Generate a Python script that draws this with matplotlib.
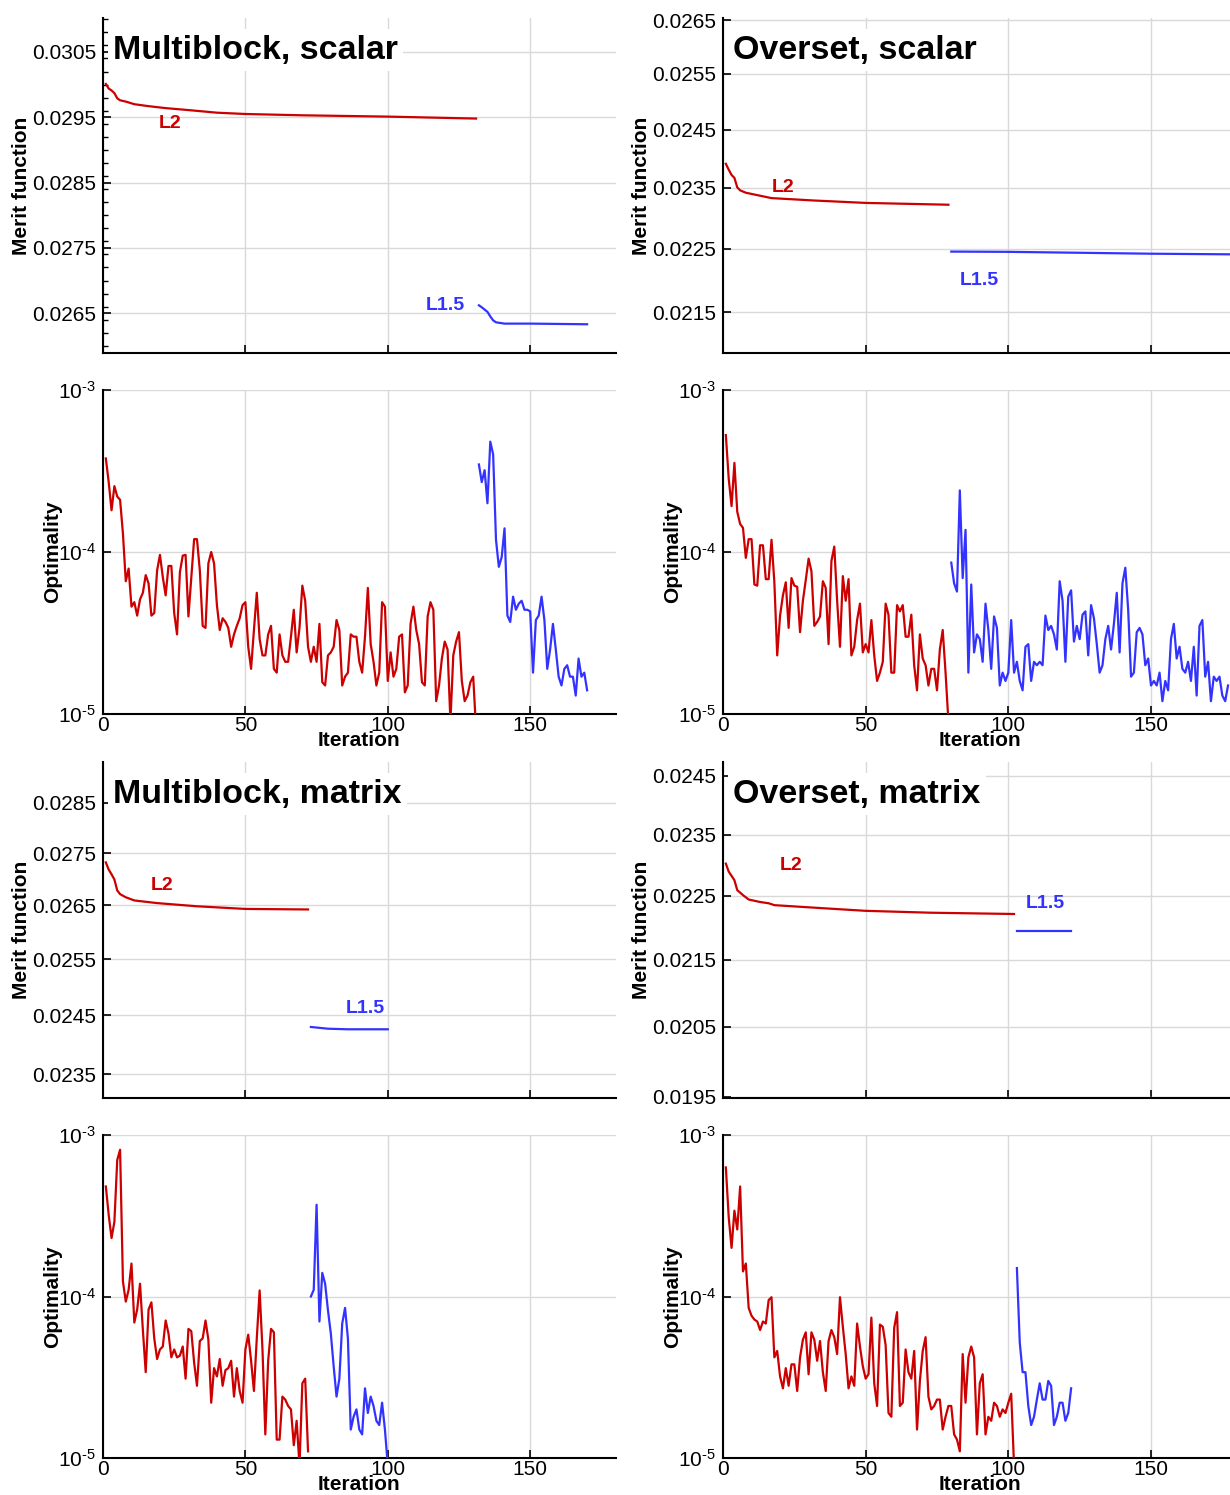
import math
import matplotlib
matplotlib.use("Agg")
import matplotlib.pyplot as plt
from matplotlib.ticker import FixedLocator, FuncFormatter, NullLocator, MultipleLocator

plt.rcParams['font.family'] = ['Liberation Sans', 'DejaVu Sans']
plt.rcParams['mathtext.fontset'] = 'custom'
plt.rcParams['mathtext.rm'] = 'Liberation Sans'
plt.rcParams['mathtext.it'] = 'Liberation Sans'

RED = '#cc0000'
BLUE = '#3333ff'
GRID = '#d9d9d9'

# ---------------- data ----------------
titles = ["Multiblock, scalar", "Overset, scalar", "Multiblock, matrix", "Overset, matrix"]
iteration_ticks = [0, 50, 100, 150]
opt_ticks = [1e-5, 1e-4, 1e-3]

# Multiblock, scalar
mbs_merit_red_it = [1, 2, 3, 4, 5, 6, 8, 11, 16, 22, 30, 40, 50, 70, 100, 131]
mbs_merit_red = [0.03001, 0.02994, 0.02991, 0.02987, 0.02979, 0.02976, 0.02974, 0.02970,
                 0.02967, 0.02964, 0.02961, 0.02957, 0.02955, 0.02953, 0.02951, 0.02948]
mbs_merit_blue_it = [132, 133, 135, 136, 137, 138, 141, 150, 170]
mbs_merit_blue = [0.02662, 0.02659, 0.02652, 0.02645, 0.02639, 0.02636, 0.02634, 0.02634, 0.02633]
mbs_opt_red_start = 1
mbs_opt_red = [3.78e-4, 2.7e-4, 1.81e-4, 2.55e-4, 2.2e-4, 2.1e-4, 1.3e-4, 6.6e-5, 7.9e-5, 4.6e-5,
               4.9e-5, 4.05e-5, 5.1e-5, 5.6e-5, 7.2e-5, 6.4e-5, 4.05e-5, 4.2e-5, 7.7e-5, 9.6e-5,
               7.0e-5, 5.4e-5, 8.2e-5, 8.2e-5, 4.2e-5, 3.1e-5, 7.5e-5, 9.5e-5, 9.6e-5, 4.0e-5,
               7.0e-5, 1.2e-4, 1.2e-4, 7.7e-5, 3.5e-5, 3.4e-5, 8.5e-5, 1.0e-4, 8.5e-5, 4.7e-5,
               3.3e-5, 3.9e-5, 3.7e-5, 3.4e-5, 2.6e-5, 3.1e-5, 3.5e-5, 3.9e-5, 4.7e-5, 4.9e-5,
               2.6e-5, 1.9e-5, 3.3e-5, 5.6e-5, 2.9e-5, 2.3e-5, 2.3e-5, 3.1e-5, 3.5e-5, 1.9e-5,
               1.8e-5, 3.1e-5, 2.3e-5, 2.1e-5, 2.1e-5, 3.0e-5, 4.4e-5, 2.4e-5, 3.4e-5, 6.2e-5,
               5.0e-5, 2.6e-5, 2.1e-5, 2.6e-5, 2.1e-5, 3.6e-5, 1.57e-5, 1.5e-5, 2.3e-5, 2.4e-5,
               2.6e-5, 3.8e-5, 3.3e-5, 1.5e-5, 1.7e-5, 1.8e-5, 3.1e-5, 3.0e-5, 3.0e-5, 2.1e-5,
               1.8e-5, 3.0e-5, 6.0e-5, 2.7e-5, 2.1e-5, 1.5e-5, 1.8e-5, 4.9e-5, 4.6e-5, 1.6e-5,
               2.4e-5, 1.7e-5, 1.9e-5, 3.0e-5, 3.1e-5, 1.36e-5, 1.5e-5, 3.6e-5, 4.6e-5, 3.3e-5,
               2.7e-5, 1.57e-5, 1.5e-5, 4.0e-5, 4.9e-5, 4.4e-5, 1.2e-5, 1.5e-5, 2.2e-5, 2.8e-5,
               2.5e-5, 9e-6, 2.3e-5, 2.8e-5, 3.2e-5, 1.6e-5, 1.2e-5, 1.3e-5, 1.57e-5, 1.7e-5,
               8e-6]
mbs_opt_blue_start = 132
mbs_opt_blue = [3.47e-4, 2.7e-4, 3.2e-4, 2.0e-4, 4.8e-4, 4.0e-4, 1.19e-4, 8.1e-5, 9.3e-5, 1.4e-4,
                4.05e-5, 3.7e-5, 5.3e-5, 4.4e-5, 4.8e-5, 5.0e-5, 4.4e-5, 4.4e-5, 4.3e-5, 1.8e-5,
                3.8e-5, 4.05e-5, 5.3e-5, 3.8e-5, 1.9e-5, 2.5e-5, 3.6e-5, 2.5e-5, 1.7e-5, 1.5e-5,
                1.9e-5, 2.0e-5, 1.7e-5, 1.7e-5, 1.3e-5, 2.2e-5, 1.7e-5, 1.8e-5, 1.4e-5]

# Overset, scalar
ovs_merit_red_it = [1, 2, 3, 4, 5, 6, 8, 10, 17, 32, 50, 79]
ovs_merit_red = [0.02391, 0.02381, 0.02372, 0.02367, 0.02351, 0.02346, 0.02342, 0.02340,
                 0.02333, 0.02329, 0.02325, 0.02322]
ovs_merit_blue_it = [80, 100, 150, 178]
ovs_merit_blue = [0.022454, 0.02245, 0.02242, 0.02241]
ovs_opt_red_start = 1
ovs_opt_red = [5.27e-4, 2.84e-4, 1.92e-4, 3.55e-4, 1.77e-4, 1.49e-4, 1.41e-4, 9.2e-5, 1.2e-4, 1.2e-4,
               6.3e-5, 6.2e-5, 1.1e-4, 1.1e-4, 6.8e-5, 6.8e-5, 1.19e-4, 6.5e-5, 2.3e-5, 4.05e-5,
               5.4e-5, 6.5e-5, 3.4e-5, 6.9e-5, 6.2e-5, 6.1e-5, 3.2e-5, 5.0e-5, 6.7e-5, 9.1e-5,
               7.6e-5, 3.5e-5, 3.7e-5, 4.0e-5, 6.6e-5, 6.0e-5, 2.7e-5, 8.8e-5, 1.08e-4, 5.0e-5,
               2.6e-5, 7.1e-5, 5.0e-5, 6.8e-5, 2.3e-5, 2.6e-5, 3.8e-5, 4.8e-5, 2.4e-5, 2.7e-5,
               2.4e-5, 3.8e-5, 2.3e-5, 1.6e-5, 1.8e-5, 2.1e-5, 4.8e-5, 4.1e-5, 1.8e-5, 1.8e-5,
               4.7e-5, 4.3e-5, 4.7e-5, 3.0e-5, 3.0e-5, 4.1e-5, 2.0e-5, 1.4e-5, 3.1e-5, 2.2e-5,
               2.0e-5, 1.5e-5, 1.9e-5, 1.9e-5, 1.4e-5, 2.5e-5, 3.3e-5, 1.8e-5, 9e-6]
ovs_opt_blue_start = 80
ovs_opt_blue = [8.6e-5, 6.4e-5, 5.7e-5, 2.4e-4, 6.9e-5, 1.37e-4, 1.8e-5, 6.3e-5, 2.4e-5, 3.1e-5,
                2.9e-5, 2.1e-5, 4.8e-5, 3.3e-5, 1.9e-5, 4.0e-5, 3.4e-5, 1.5e-5, 1.8e-5, 1.6e-5,
                1.8e-5, 3.8e-5, 1.8e-5, 2.1e-5, 1.6e-5, 1.4e-5, 2.6e-5, 2.7e-5, 1.6e-5, 2.1e-5,
                2.0e-5, 2.1e-5, 2.0e-5, 4.05e-5, 3.3e-5, 3.5e-5, 3.1e-5, 2.5e-5, 6.6e-5, 5.0e-5,
                2.1e-5, 5.3e-5, 5.8e-5, 2.8e-5, 3.5e-5, 2.9e-5, 4.1e-5, 4.3e-5, 2.3e-5, 4.7e-5,
                3.9e-5, 2.7e-5, 1.8e-5, 2.0e-5, 2.9e-5, 3.5e-5, 2.5e-5, 3.6e-5, 5.6e-5, 2.4e-5,
                6.4e-5, 8.0e-5, 4.4e-5, 1.7e-5, 1.8e-5, 3.2e-5, 3.4e-5, 3.1e-5, 2.0e-5, 2.2e-5,
                1.5e-5, 1.6e-5, 1.5e-5, 1.8e-5, 1.2e-5, 1.6e-5, 1.4e-5, 2.9e-5, 3.6e-5, 2.2e-5,
                2.6e-5, 1.9e-5, 1.8e-5, 2.1e-5, 1.6e-5, 2.6e-5, 1.3e-5, 3.5e-5, 3.8e-5, 1.7e-5,
                2.1e-5, 1.2e-5, 1.7e-5, 1.6e-5, 1.7e-5, 1.3e-5, 1.2e-5, 1.5e-5]

# Multiblock, matrix
mbm_merit_red_it = [1, 2, 3, 4, 5, 6, 8, 11, 19, 33, 50, 72]
mbm_merit_red = [0.02732, 0.02718, 0.02709, 0.02699, 0.02678, 0.02671, 0.02665, 0.02659,
                 0.02654, 0.02648, 0.02643, 0.02642]
mbm_merit_blue_it = [73, 79, 86, 100]
mbm_merit_blue = [0.02430, 0.02427, 0.02426, 0.02426]
mbm_opt_red_start = 1
mbm_opt_red = [4.8e-4, 3.2e-4, 2.3e-4, 2.9e-4, 7.0e-4, 8.1e-4, 1.24e-4, 9.3e-5, 1.1e-4, 1.6e-4,
               6.9e-5, 8.3e-5, 1.2e-4, 6.2e-5, 3.4e-5, 8.3e-5, 9.2e-5, 5.5e-5, 4.1e-5, 4.7e-5,
               4.9e-5, 7.1e-5, 5.9e-5, 4.2e-5, 4.7e-5, 4.2e-5, 4.3e-5, 4.9e-5, 3.1e-5, 6.3e-5,
               6.1e-5, 3.9e-5, 2.8e-5, 5.3e-5, 5.5e-5, 7.1e-5, 5.4e-5, 2.2e-5, 3.6e-5, 3.2e-5,
               4.1e-5, 2.8e-5, 3.5e-5, 3.6e-5, 4.0e-5, 2.4e-5, 3.6e-5, 2.6e-5, 2.2e-5, 4.7e-5,
               5.8e-5, 4.0e-5, 2.6e-5, 5.5e-5, 1.09e-4, 4.7e-5, 1.4e-5, 4.0e-5, 6.3e-5, 6.0e-5,
               1.3e-5, 1.3e-5, 2.4e-5, 2.3e-5, 2.1e-5, 2.0e-5, 1.2e-5, 1.7e-5, 9e-6, 2.9e-5,
               3.1e-5, 1.1e-5]
mbm_opt_blue_start = 73
mbm_opt_blue = [1.0e-4, 1.1e-4, 3.7e-4, 7.0e-5, 1.4e-4, 1.2e-4, 8.2e-5, 5.9e-5, 3.7e-5, 2.4e-5,
                3.1e-5, 6.8e-5, 8.5e-5, 5.5e-5, 1.5e-5, 1.8e-5, 2.0e-5, 1.5e-5, 1.4e-5, 2.7e-5,
                1.9e-5, 2.4e-5, 2.1e-5, 1.7e-5, 1.6e-5, 2.2e-5, 1.5e-5, 9e-6]

# Overset, matrix
ovm_merit_red_it = [1, 2, 3, 4, 5, 7, 9, 13, 16, 18, 32, 50, 73, 102]
ovm_merit_red = [0.02302, 0.02289, 0.02282, 0.02275, 0.02259, 0.02251, 0.02244, 0.02240,
                 0.02238, 0.02235, 0.02231, 0.02226, 0.02223, 0.02221]
ovm_merit_blue_it = [103, 122]
ovm_merit_blue = [0.02195, 0.02195]
ovm_opt_red_start = 1
ovm_opt_red = [6.3e-4, 3.1e-4, 2.0e-4, 3.4e-4, 2.6e-4, 4.8e-4, 1.43e-4, 1.6e-4, 8.5e-5, 7.6e-5,
               7.2e-5, 7.0e-5, 6.2e-5, 7.0e-5, 6.8e-5, 9.5e-5, 9.9e-5, 4.2e-5, 4.6e-5, 3.2e-5,
               2.7e-5, 3.6e-5, 2.8e-5, 3.8e-5, 3.8e-5, 2.6e-5, 4.2e-5, 5.4e-5, 6.0e-5, 3.3e-5,
               6.0e-5, 5.4e-5, 4.0e-5, 5.3e-5, 3.4e-5, 2.6e-5, 5.3e-5, 6.2e-5, 5.6e-5, 4.4e-5,
               9.9e-5, 6.5e-5, 4.4e-5, 2.7e-5, 3.2e-5, 2.8e-5, 6.8e-5, 4.9e-5, 3.7e-5, 3.1e-5,
               3.3e-5, 7.4e-5, 2.9e-5, 2.1e-5, 6.7e-5, 6.5e-5, 5.0e-5, 1.9e-5, 1.8e-5, 6.4e-5,
               8.0e-5, 2.1e-5, 2.2e-5, 4.7e-5, 3.4e-5, 3.1e-5, 4.6e-5, 1.5e-5, 3.0e-5, 4.6e-5,
               5.6e-5, 2.4e-5, 2.0e-5, 2.1e-5, 2.3e-5, 2.3e-5, 1.5e-5, 1.8e-5, 2.1e-5, 2.1e-5,
               1.4e-5, 1.3e-5, 1.1e-5, 4.4e-5, 2.2e-5, 4.2e-5, 4.9e-5, 4.2e-5, 1.4e-5, 2.9e-5,
               3.3e-5, 1.4e-5, 1.8e-5, 1.7e-5, 2.2e-5, 2.1e-5, 1.8e-5, 2.0e-5, 1.9e-5, 2.2e-5,
               2.5e-5, 9e-6]
ovm_opt_blue_start = 103
ovm_opt_blue = [1.5e-4, 5.2e-5, 3.4e-5, 3.4e-5, 2.1e-5, 1.6e-5, 1.8e-5, 2.3e-5, 2.9e-5, 2.3e-5,
                2.3e-5, 3.0e-5, 2.8e-5, 1.6e-5, 1.8e-5, 2.2e-5, 2.2e-5, 1.7e-5, 1.9e-5, 2.7e-5]

# merit axis ticks
mbs_merit_ticks = [0.0265, 0.0275, 0.0285, 0.0295, 0.0305]
ovs_merit_ticks = [0.0215, 0.0225, 0.0235, 0.0245, 0.0255, 0.0265]
mbm_merit_ticks = [0.0235, 0.0245, 0.0255, 0.0265, 0.0275, 0.0285]
ovm_merit_ticks = [0.0195, 0.0205, 0.0215, 0.0225, 0.0235, 0.0245]

# ---------------- figure ----------------
W, H = 1230, 1495
fig = plt.figure(figsize=(W / 100, H / 100), dpi=100)

def frac_rect(left_px, top_px, right_px, bottom_px):
    return [left_px / W, 1 - bottom_px / H, (right_px - left_px) / W, (bottom_px - top_px) / H]

cols = [(103, 615.6), (723, 1236.6)]
rows_merit = [(18, 353), (762, 1098)]
rows_opt = [(390, 714), (1135, 1458)]

TICK_FS = 15
LAB_FS = 15

def style_axes(ax):
    for s in ['top', 'right']:
        ax.spines[s].set_visible(False)
    for s in ['left', 'bottom']:
        ax.spines[s].set_linewidth(1.5)
        ax.spines[s].set_color('black')
    ax.tick_params(which='major', direction='in', length=6, width=1.2, labelsize=TICK_FS, pad=5)
    ax.tick_params(which='minor', direction='in', length=3.5, width=1.0)
    ax.grid(True, which='major', color=GRID, linewidth=1.0)
    ax.set_axisbelow(True)
    ax.set_xlim(0, 180)
    ax.xaxis.set_major_locator(FixedLocator(iteration_ticks))
    ax.xaxis.set_minor_locator(NullLocator())

def merit_panel(ax, title, red_it, red, blue_it, blue, ticks, ylim, logscale,
                l2_pos, l15_pos):
    style_axes(ax)
    if logscale:
        ax.set_yscale('log')
    ax.plot(red_it, red, color=RED, lw=1.6, zorder=3)
    ax.plot(blue_it, blue, color=BLUE, lw=1.6, zorder=3)
    ax.set_ylim(*ylim)
    ax.yaxis.set_major_locator(FixedLocator(ticks))
    ax.yaxis.set_major_formatter(FuncFormatter(lambda v, p: '%.4f' % v))
    if logscale:
        ax.yaxis.set_minor_locator(NullLocator())
    else:
        ax.yaxis.set_minor_locator(MultipleLocator(0.0002))
    ax.tick_params(axis='x', labelbottom=False)
    ax.set_ylabel('Merit function', fontsize=LAB_FS, fontweight='bold')
    ax.yaxis.set_label_coords(-0.140, 0.5)
    ax.text(0.0195, 0.904, title, transform=ax.transAxes, fontsize=24.5,
            fontweight='bold', ha='left', va='center', zorder=5,
            bbox=dict(facecolor='white', edgecolor='none', pad=4))
    ax.text(l2_pos[0], l2_pos[1], 'L2', color=RED, fontsize=14, fontweight='bold',
            ha='center', va='center', zorder=4)
    ax.text(l15_pos[0], l15_pos[1], 'L1.5', color=BLUE, fontsize=14, fontweight='bold',
            ha='center', va='center', zorder=4)

def decade_label(v, p):
    e = int(round(math.log10(v)))
    sign = '\u2010' if e < 0 else ''
    return r'$\mathregular{10^{%s%d}}$' % (sign, abs(e))

def opt_panel(ax, red_start, red, blue_start, blue):
    style_axes(ax)
    ax.set_yscale('log')
    ax.plot(range(red_start, red_start + len(red)), red, color=RED, lw=1.6, zorder=3)
    ax.plot(range(blue_start, blue_start + len(blue)), blue, color=BLUE, lw=1.6, zorder=3)
    ax.set_ylim(1e-5, 1e-3)
    ax.yaxis.set_major_locator(FixedLocator(opt_ticks))
    ax.yaxis.set_major_formatter(FuncFormatter(decade_label))
    ax.yaxis.set_minor_locator(NullLocator())
    ax.set_xticklabels([str(t) for t in iteration_ticks])
    ax.tick_params(axis='x', pad=1.5)
    ax.set_ylabel('Optimality', fontsize=LAB_FS, fontweight='bold')
    ax.yaxis.set_label_coords(-0.080, 0.5)
    ax.set_xlabel('Iteration', fontsize=LAB_FS, fontweight='bold')
    ax.xaxis.set_label_coords(0.5, -0.053)

# Row 1 -- scalar
ax = fig.add_axes(frac_rect(cols[0][0], rows_merit[0][0], cols[0][1], rows_merit[0][1]))
merit_panel(ax, titles[0], mbs_merit_red_it, mbs_merit_red, mbs_merit_blue_it, mbs_merit_blue,
            mbs_merit_ticks, (0.02589, 0.03102), False, (23.5, 0.02941), (120.2, 0.02661))
ax = fig.add_axes(frac_rect(cols[0][0], rows_opt[0][0], cols[0][1], rows_opt[0][1]))
opt_panel(ax, mbs_opt_red_start, mbs_opt_red, mbs_opt_blue_start, mbs_opt_blue)

ax = fig.add_axes(frac_rect(cols[1][0], rows_merit[0][0], cols[1][1], rows_merit[0][1]))
merit_panel(ax, titles[1], ovs_merit_red_it, ovs_merit_red, ovs_merit_blue_it, ovs_merit_blue,
            ovs_merit_ticks, (0.020882, 0.02654), True, (21.0, 0.02350), (90.0, 0.02199))
ax = fig.add_axes(frac_rect(cols[1][0], rows_opt[0][0], cols[1][1], rows_opt[0][1]))
opt_panel(ax, ovs_opt_red_start, ovs_opt_red, ovs_opt_blue_start, ovs_opt_blue)

# Row 2 -- matrix
ax = fig.add_axes(frac_rect(cols[0][0], rows_merit[1][0], cols[0][1], rows_merit[1][1]))
merit_panel(ax, titles[2], mbm_merit_red_it, mbm_merit_red, mbm_merit_blue_it, mbm_merit_blue,
            mbm_merit_ticks, (0.023102, 0.029344), True, (20.7, 0.02688), (92.2, 0.02462))
ax = fig.add_axes(frac_rect(cols[0][0], rows_opt[1][0], cols[0][1], rows_opt[1][1]))
opt_panel(ax, mbm_opt_red_start, mbm_opt_red, mbm_opt_blue_start, mbm_opt_blue)

ax = fig.add_axes(frac_rect(cols[1][0], rows_merit[1][0], cols[1][1], rows_merit[1][1]))
merit_panel(ax, titles[3], ovm_merit_red_it, ovm_merit_red, ovm_merit_blue_it, ovm_merit_blue,
            ovm_merit_ticks, (0.019486, 0.024745), True, (23.8, 0.02299), (112.9, 0.02237))
ax = fig.add_axes(frac_rect(cols[1][0], rows_opt[1][0], cols[1][1], rows_opt[1][1]))
opt_panel(ax, ovm_opt_red_start, ovm_opt_red, ovm_opt_blue_start, ovm_opt_blue)

fig.savefig('out.png', dpi=100, facecolor='white')
